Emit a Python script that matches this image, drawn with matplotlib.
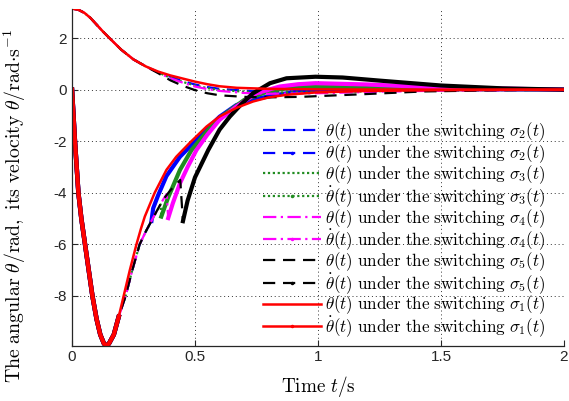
import matplotlib
matplotlib.use('Agg')
import matplotlib.pyplot as plt
from matplotlib.lines import Line2D

plt.rcParams['mathtext.fontset'] = 'cm'
plt.rcParams['axes.unicode_minus'] = False
plt.rcParams['font.family'] = ['Liberation Sans', 'DejaVu Sans']

# ---------------- data ----------------
# angle theta: common part for all switchings
t_th_common = [0, 0.025, 0.05, 0.075, 0.1, 0.125, 0.15, 0.2, 0.25, 0.3]
th_common = [3.1416, 3.10, 2.98, 2.78, 2.52, 2.26, 2.02, 1.55, 1.17, 0.90]

t_th_s1 = [0.35, 0.4, 0.45, 0.5, 0.55, 0.6, 0.67, 0.8, 1.0, 1.5, 2.0]
th_s1 = [0.70, 0.55, 0.43, 0.31, 0.21, 0.13, 0.07, 0.03, 0.01, 0.0, 0.0]
t_th_s2 = [0.35, 0.4, 0.45, 0.5, 0.55, 0.6, 0.7, 0.8, 1.0, 1.25, 1.5, 2.0]
th_s2 = [0.68, 0.50, 0.33, 0.20, 0.10, 0.03, -0.04, -0.08, -0.08, -0.05, -0.03, 0.0]
t_th_s3 = [0.35, 0.4, 0.45, 0.5, 0.55, 0.6, 0.7, 0.8, 1.0, 1.25, 1.5, 2.0]
th_s3 = [0.67, 0.46, 0.30, 0.16, 0.06, -0.01, -0.08, -0.11, -0.10, -0.06, -0.03, 0.0]
t_th_s4 = [0.35, 0.4, 0.45, 0.5, 0.55, 0.6, 0.7, 0.8, 1.0, 1.25, 1.5, 2.0]
th_s4 = [0.66, 0.44, 0.27, 0.12, 0.02, -0.05, -0.13, -0.16, -0.14, -0.08, -0.04, 0.0]
t_th_s5 = [0.35, 0.4, 0.45, 0.5, 0.55, 0.6, 0.7, 0.8, 0.93, 1.2, 1.43, 1.7, 2.0]
th_s5 = [0.64, 0.36, 0.15, -0.02, -0.14, -0.22, -0.28, -0.30, -0.28, -0.17, -0.07, -0.03, 0.0]

# angular velocity: common fast descent
t_dth_desc = [0, 0.006, 0.012, 0.019, 0.026, 0.038, 0.053, 0.068, 0.083, 0.1,
              0.115, 0.13, 0.14, 0.15, 0.17, 0.19]
dth_desc = [0, -1.0, -2.0, -3.0, -4.0, -5.0, -6.0, -7.0, -8.0, -8.9,
            -9.5, -9.85, -9.92, -9.85, -9.5, -8.8]
# common rise before the switching (sigma_2 ... sigma_5)
t_dth_rise = [0.218, 0.245, 0.275, 0.30, 0.323, 0.345, 0.37, 0.40, 0.44]
dth_rise = [-8.0, -7.0, -6.0, -5.5, -5.09, -4.7, -4.27, -3.9, -3.5]

# after the switching
t_dth_s1 = [0.21, 0.235, 0.262, 0.28, 0.296, 0.336, 0.384, 0.424, 0.48, 0.547,
            0.6, 0.67, 0.736, 0.8, 0.872, 0.99, 1.2, 1.5, 2.0]
dth_s1 = [-8.0, -7.0, -6.0, -5.4, -4.92, -4.0, -3.11, -2.6, -2.05, -1.43,
          -1.04, -0.70, -0.46, -0.30, -0.20, -0.11, -0.05, -0.02, 0.0]
t_dth_s2 = [0.323, 0.33, 0.35, 0.384, 0.439, 0.466, 0.52, 0.6, 0.668, 0.74,
            0.805, 0.9, 1.0, 1.2, 1.5, 2.0]
dth_s2 = [-5.09, -4.6, -4.1, -3.35, -2.6, -2.34, -1.8, -1.05, -0.6, -0.38,
          -0.25, -0.10, 0.0, 0.03, 0.02, 0.0]
t_dth_s3 = [0.36, 0.363, 0.39, 0.439, 0.486, 0.55, 0.6, 0.7, 0.805, 0.9, 0.99,
            1.2, 1.5, 2.0]
dth_s3 = [-4.45, -4.92, -4.2, -3.11, -2.34, -1.6, -1.1, -0.4, -0.04, 0.08, 0.12,
          0.10, 0.05, 0.0]
t_dth_s4 = [0.385, 0.391, 0.41, 0.439, 0.47, 0.506, 0.55, 0.6, 0.668, 0.75,
            0.844, 0.92, 0.99, 1.2, 1.5, 2.0]
dth_s4 = [-4.05, -4.98, -4.4, -3.63, -3.0, -2.34, -1.75, -1.17, -0.66, -0.14,
          0.12, 0.21, 0.25, 0.20, 0.08, 0.0]
t_dth_s5 = [0.44, 0.451, 0.47, 0.5, 0.554, 0.6, 0.642, 0.69, 0.736, 0.805,
            0.872, 0.99, 1.1, 1.25, 1.5, 1.75, 2.0]
dth_s5 = [-3.5, -5.1, -4.3, -3.4, -2.34, -1.55, -1.04, -0.55, -0.14, 0.25,
          0.44, 0.50, 0.47, 0.35, 0.16, 0.05, 0.0]

x_ticks = [0, 0.5, 1, 1.5, 2]
x_tick_labels = ['0', '0.5', '1', '1.5', '2']
y_ticks = [-8, -6, -4, -2, 0, 2]
y_tick_labels = ['-8', '-6', '-4', '-2', '0', '2']

# ---------------- figure ----------------
W, H = 569, 401
fig = plt.figure(figsize=(W / 100, H / 100), dpi=100)
ax = fig.add_axes([72 / W, 1 - 345.5 / H, (564 - 72) / W, (345.5 - 8.6) / H])

green = (0.13, 0.55, 0.13)
series = [
    (t_th_s2, th_s2, t_dth_s2, dth_s2, 'blue', (0, (5.5, 3.5)), 2),
    (t_th_s3, th_s3, t_dth_s3, dth_s3, green, (0, (1, 1.2)), 3),
    (t_th_s4, th_s4, t_dth_s4, dth_s4, 'magenta', (0, (6, 2, 1, 2)), 4),
    (t_th_s5, th_s5, t_dth_s5, dth_s5, 'black', (0, (5.5, 3.5)), 5),
]

handles = []
lw = 1.6
for tt, th, td, dth, col, ls, k in series:
    ax.plot(t_th_common + tt, th_common + th, color=col, ls=ls, lw=lw)
    rise_t = [t for t in t_dth_rise if t <= td[0]]
    rise_v = dth_rise[:len(rise_t)]
    full_t = t_dth_desc + rise_t + td
    full_v = dth_desc + rise_v + dth
    ax.plot(full_t, full_v, color=col, ls=ls, lw=lw)
    # dense (chattering) parts appear thick
    ax.plot(t_dth_desc, dth_desc, color=col, ls='-', lw=3.2)
    ax.plot(td[1:] if k != 2 else td, dth[1:] if k != 2 else dth, color=col, ls='-', lw=3.0)
    handles.append(Line2D([], [], color=col, ls=ls, lw=lw,
                          label=r'$\theta(t)\ \mathrm{under\ the\ switching}\ \sigma_%d(t)$' % k))
    handles.append(Line2D([], [], color=col, ls=ls, lw=lw, marker='.', ms=3,
                          label=r'$\dot{\theta}(t)\ \mathrm{under\ the\ switching}\ \sigma_%d(t)$' % k))

# sigma_1 (red, solid)
ax.plot(t_th_common + t_th_s1, th_common + th_s1, color='red', lw=1.8)
ax.plot(t_dth_desc + t_dth_s1, dth_desc + dth_s1, color='red', lw=1.8)
ax.plot(t_dth_desc, dth_desc, color='red', lw=3.0)
handles.append(Line2D([], [], color='red', lw=1.8,
                      label=r'$\theta(t)\ \mathrm{under\ the\ switching}\ \sigma_1(t)$'))
handles.append(Line2D([], [], color='red', lw=1.8, marker='.', ms=3,
                      label=r'$\dot{\theta}(t)\ \mathrm{under\ the\ switching}\ \sigma_1(t)$'))

ax.set_xlim(0, 2)
ax.set_ylim(-9.92, 3.1416)
ax.set_xticks(x_ticks)
ax.set_xticklabels(x_tick_labels)
ax.set_yticks(y_ticks)
ax.set_yticklabels(y_tick_labels)
ax.tick_params(direction='in', length=4, width=0.8, labelsize=11, colors='#262626')
for s in ['top', 'right']:
    ax.spines[s].set_visible(False)
for s in ['left', 'bottom']:
    ax.spines[s].set_color('#262626')
    ax.spines[s].set_linewidth(0.9)
ax.grid(True, color='#333333', ls=(0, (1, 3)), lw=0.7)
ax.set_axisbelow(True)

ax.set_xlabel(r'$\mathrm{Time}\ t/\mathrm{s}$', fontsize=13.8)
ax.xaxis.set_label_coords(0.5, -0.085)
ax.set_ylabel(r'$\mathrm{The\ angular}\ \theta/\mathrm{rad,\ its\ velocity}\ \theta/\mathrm{rad}{\cdot}\mathrm{s}^{-1}$',
              fontsize=14.3)
ax.yaxis.set_label_coords(-0.09, 0.415)

leg = ax.legend(handles=handles, loc='upper left', frameon=False, fontsize=12.3,
                bbox_to_anchor=(263 / W, 1 - 120 / H), bbox_transform=fig.transFigure,
                borderpad=0, borderaxespad=0, handlelength=3.4, handletextpad=0.25,
                labelspacing=-0.12, numpoints=1)

fig.savefig('out.png', dpi=100)
